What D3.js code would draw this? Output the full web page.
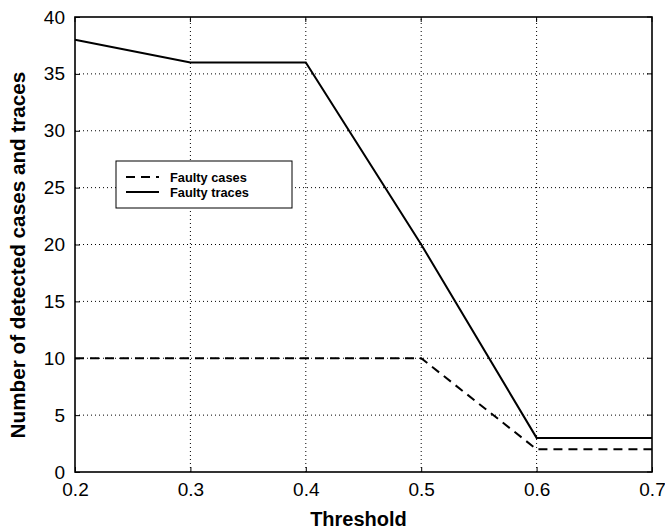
<!DOCTYPE html>
<html>
<head>
<meta charset="utf-8">
<script src="https://cdn.jsdelivr.net/npm/d3@7"></script>
<style>
  html, body { margin: 0; padding: 0; background: #fff; }
  svg { display: block; font-family: "Liberation Sans", Arial, Helvetica, sans-serif; }
</style>
</head>
<body>
<svg id="chart" width="665" height="529"></svg>
<script>
// Detection results per threshold
const thresholds = [0.2, 0.3, 0.4, 0.5, 0.6, 0.7];
const faultyCases = [10, 10, 10, 10, 2, 2];
const faultyTraces = [38, 36, 36, 20, 3, 3];
const xTicks = [0.2, 0.3, 0.4, 0.5, 0.6, 0.7];
const yTicks = [0, 5, 10, 15, 20, 25, 30, 35, 40];

const margin = { left: 75, right: 13, top: 17, bottom: 57 };
const W = 665, H = 529;
const svg = d3.select("#chart");

const x = d3.scaleLinear().domain([0.2, 0.7]).range([margin.left, W - margin.right]);
const y = d3.scaleLinear().domain([0, 40]).range([H - margin.bottom, margin.top]);

// dotted grid
const grid = svg.append("g").attr("stroke", "#000").attr("stroke-width", 1)
  .attr("stroke-dasharray", "1,3");
grid.selectAll(".gx").data(xTicks.slice(1, -1)).enter().append("line")
  .attr("x1", d => x(d)).attr("x2", d => x(d))
  .attr("y1", y(0)).attr("y2", y(40));
grid.selectAll(".gy").data(yTicks.slice(1, -1)).enter().append("line")
  .attr("y1", d => y(d)).attr("y2", d => y(d))
  .attr("x1", x(0.2)).attr("x2", x(0.7));

// axes
const xAxis = d3.axisBottom(x).tickValues(xTicks).tickFormat(d3.format(".1f"))
  .tickSizeInner(-5).tickSizeOuter(0).tickPadding(0);
const yAxis = d3.axisLeft(y).tickValues(yTicks).tickFormat(d3.format("d"))
  .tickSizeInner(-5).tickSizeOuter(0).tickPadding(10);

const gx = svg.append("g").attr("transform", `translate(0,${y(0)})`).call(xAxis);
const gy = svg.append("g").attr("transform", `translate(${x(0.2)},0)`).call(yAxis);
[gx, gy].forEach(g => {
  g.select(".domain").remove();
  g.selectAll("line").attr("stroke", "#000");
  g.selectAll("text").attr("fill", "#000").attr("font-size", 19)
    .attr("font-family", "Liberation Sans, Arial, sans-serif");
});
gx.selectAll("text").attr("y", 24).attr("dy", null);
// top/right tick marks
svg.append("g").selectAll("line").data(xTicks).enter().append("line")
  .attr("x1", d => x(d)).attr("x2", d => x(d))
  .attr("y1", y(40)).attr("y2", y(40) + 5).attr("stroke", "#000");
svg.append("g").selectAll("line").data(yTicks).enter().append("line")
  .attr("x1", x(0.7)).attr("x2", x(0.7) - 5)
  .attr("y1", d => y(d)).attr("y2", d => y(d)).attr("stroke", "#000");

// frame
svg.append("rect")
  .attr("x", x(0.2)).attr("y", y(40))
  .attr("width", x(0.7) - x(0.2)).attr("height", y(0) - y(40))
  .attr("fill", "none").attr("stroke", "#000").attr("stroke-width", 1.6);

// series
const line = d3.line().x(d => x(d[0])).y(d => y(d[1]));
svg.append("path")
  .datum(thresholds.map((t, i) => [t, faultyCases[i]]))
  .attr("d", line).attr("fill", "none").attr("stroke", "#000")
  .attr("stroke-width", 2).attr("stroke-dasharray", "9,6");
svg.append("path")
  .datum(thresholds.map((t, i) => [t, faultyTraces[i]]))
  .attr("d", line).attr("fill", "none").attr("stroke", "#000")
  .attr("stroke-width", 2);

// legend
const lg = svg.append("g").attr("transform", "translate(116,161)");
lg.append("rect").attr("width", 176).attr("height", 47)
  .attr("fill", "#fff").attr("stroke", "#000").attr("stroke-width", 1);
const legendItems = [
  { label: "Faulty cases", dash: "9,6", yy: 16 },
  { label: "Faulty traces", dash: null, yy: 31 }
];
legendItems.forEach(it => {
  lg.append("line").attr("x1", 10).attr("x2", 43)
    .attr("y1", it.yy).attr("y2", it.yy)
    .attr("stroke", "#000").attr("stroke-width", 2)
    .attr("stroke-dasharray", it.dash);
  lg.append("text").attr("x", 54).attr("y", it.yy + 4.5)
    .attr("font-size", 12.8).attr("font-weight", "bold").text(it.label);
});

// axis titles
svg.append("text").attr("x", 358.5).attr("y", 526)
  .attr("text-anchor", "middle").attr("font-size", 20).attr("font-weight", "bold")
  .text("Threshold");
svg.append("text")
  .attr("transform", "translate(25,255) rotate(-90)")
  .attr("text-anchor", "middle").attr("font-size", 20.7).attr("font-weight", "bold")
  .text("Number of detected cases and traces");
</script>
</body>
</html>
